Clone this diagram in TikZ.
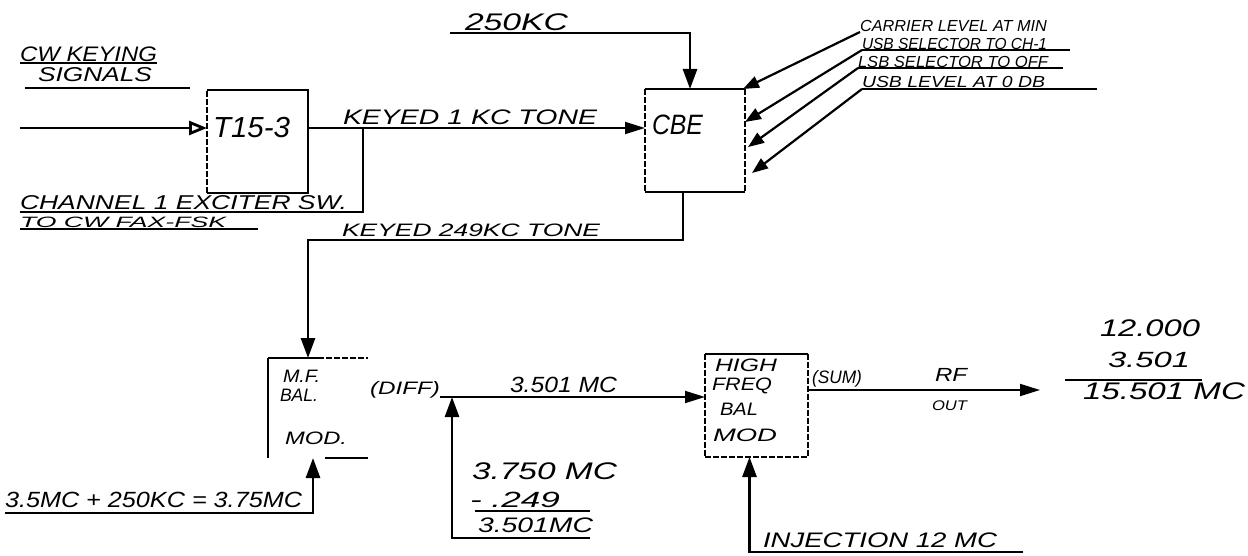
\documentclass[tikz,border=0pt]{standalone}
\usepackage{fontspec}
\setmainfont{Liberation Sans}
\usepackage{graphicx}
\usetikzlibrary{arrows.meta,fit,calc}
\newcommand\tx[3]{\fontsize{#1}{#1}\selectfont\itshape\resizebox{#2pt}{\height}{#3}}
\begin{document}
\begin{tikzpicture}[x=0.5pt,y=-0.5pt,
  lbl/.style={anchor=west,inner sep=0pt,outer sep=0pt},
  box/.style={inner sep=0pt,outer sep=0pt,draw=none},
  wire/.style={line width=1.4pt},
  uline/.style={line width=0.9pt},
  edge/.style={line width=1.4pt},
  dedge/.style={line width=0.8pt,dash pattern=on 3pt off 1pt},
  arr/.style={wire,-{Triangle[length=10pt,width=7pt]}},
  tarr/.style={line width=0.9pt,-{Triangle[length=10pt,width=6pt]}},
  sarr/.style={line width=1.1pt,-{Triangle[length=8pt,width=6pt]}},
  oarr/.style={wire,-{Triangle[open,length=9pt,width=7pt]}}]
\useasboundingbox (0,0) rectangle (1248,556);

% boxes
\node[box,fit={(207,90)(308,193)}] (t15) {};
\draw[edge] (t15.north west) -- (t15.north east) -- (t15.south east) -- (t15.south west);
\draw[dedge] (t15.south west) -- (t15.north west);

\node[box,fit={(645,89)(745,192)}] (cbe) {};
\draw[edge] (cbe.north west) -- (cbe.north east);
\draw[edge] (cbe.south west) -- (cbe.south east);
\draw[dedge] (cbe.north west) -- (cbe.south west);
\draw[dedge] (cbe.north east) -- (cbe.south east);

\node[box,fit={(268,358)(368,458)}] (mf) {};
\draw[dedge] (mf.north) -- (mf.north east);
\draw[edge] (mf.north west) -- (mf.north);
\draw[edge] (mf.north west) -- (mf.south west);
\draw[uline] ($(mf.south)+(7,0)$) -- (mf.south east);

\node[box,fit={(705,354)(808,457)}] (hf) {};
\draw[edge] (hf.north west) -- (hf.north east);
\draw[dedge] (hf.north west) -- (hf.south west);
\draw[dedge] (hf.north east) -- (hf.south east);
\draw[dedge] (hf.south west) -- (hf.south east);

% labels
\node[lbl] (cw1) at (20,54) {\tx{10.5}{68.5}{CW KEYING}};
\node[lbl] (cw2) at (38,75) {\tx{10}{57}{SIGNALS}};
\node[lbl] (t15l) at (213,128) {\tx{14.5}{38.5}{T15-3}};
\node[lbl] (k1) at (343,117) {\tx{10.5}{127}{KEYED 1 KC TONE}};
\node[lbl] (cbel) at (652,125) {\tx{14}{25.5}{CBE}};
\node[lbl] (kc) at (465,22) {\tx{12}{51.5}{250KC}};
\node[lbl] (r1) at (860,26) {\tx{8}{93.5}{CARRIER LEVEL AT MIN}};
\node[lbl] (r2) at (862,44) {\tx{8}{92.5}{USB SELECTOR TO CH-1}};
\node[lbl] (r3) at (858,62) {\tx{8}{95}{LSB SELECTOR TO OFF}};
\node[lbl] (r4) at (862,82) {\tx{8}{91.5}{USB LEVEL AT 0 DB}};
\node[lbl] (ch1) at (20,203) {\tx{10}{163.5}{CHANNEL 1 EXCITER SW.}};
\node[lbl] (ch2) at (20,222) {\tx{7.5}{103}{TO CW FAX-FSK}};
\node[lbl] (k2) at (342,230) {\tx{9}{129}{KEYED 249KC TONE}};
\node[lbl] (mf1) at (283,376) {\tx{9}{18.5}{M.F.}};
\node[lbl] (mf2) at (280,395) {\tx{9}{19}{BAL.}};
\node[lbl] (mf3) at (285,438) {\tx{9}{31}{MOD.}};
\node[lbl] (diff) at (370,390) {\tx{9}{35}{(DIFF)}};
\node[lbl] (f1) at (510,385) {\tx{11}{53.5}{3.501 MC}};
\node[lbl] (s1) at (472,471) {\tx{12}{72.5}{3.750 MC}};
\node[lbl] (s2) at (470,500) {\tx{11}{45}{- .249}};
\node[lbl] (s3) at (478,525) {\tx{10.5}{57.5}{3.501MC}};
\node[lbl] (b1) at (5,500) {\tx{11}{148.5}{3.5MC + 250KC = 3.75MC}};
\node[lbl] (h1) at (715,365) {\tx{9}{31}{HIGH}};
\node[lbl] (h2) at (712,386) {\tx{9}{30}{FREQ}};
\node[lbl] (h3) at (720,409) {\tx{9}{19}{BAL}};
\node[lbl] (h4) at (713,435) {\tx{9}{32}{MOD}};
\node[lbl] (sum) at (812,379) {\tx{9}{25}{(SUM)}};
\node[lbl] (rf1) at (935,375) {\tx{9.5}{16}{RF}};
\node[lbl] (rf2) at (932,406) {\tx{7}{17.5}{OUT}};
\node[lbl] (n1) at (1100,328) {\tx{12}{50}{12.000}};
\node[lbl] (n2) at (1108,360) {\tx{11}{41}{3.501}};
\node[lbl] (n3) at (1083,391) {\tx{12}{81}{15.501 MC}};
\node[lbl] (inj) at (763,540) {\tx{10.5}{117}{INJECTION 12 MC}};

% underlines
\draw[uline] (20,63) -- (157,63);
\draw[uline] (25,88) -- (190,88);
\draw[uline] (862,50) -- (1070,50);
\draw[uline] (858,68) -- (1063,68);
\draw[uline] (862,89) -- (1097,89);
\draw[uline] (20,229) -- (258,229);
\draw[uline] (475,511) -- (590,511);
\draw[uline] (1065,380) -- (1202,380);

% connectors
\coordinate (in0) at (20,128);
\draw[oarr] (in0) -- (in0 -| t15.west);
\draw[tarr] (in0 -| t15.east) -- (in0 -| cbe.west);
\coordinate (br) at (363,128);
\coordinate (chl) at (20,212);
\draw[wire] (br) |- (chl);

\coordinate (kcs) at (450,33);
\draw[arr] (kcs) -| ($(cbe.north)+(-5,0)$);

\coordinate (a1) at (860,32);
\coordinate (a2) at (862,50);
\coordinate (a3) at (858,68);
\coordinate (a4) at (862,89);
\draw[sarr] (a1) -- ($(cbe.north east)+(-2,0)$);
\draw[sarr] (a2) -- ($(cbe.north east)+(0,33)$);
\draw[sarr] (a3) -- ($(cbe.north east)+(3,58)$);
\draw[sarr] (a4) -- ($(cbe.north east)+(7,84)$);

\coordinate (k2r) at (683,240);
\coordinate (k2l) at (308,240);
\draw[arr] (cbe.south -| k2r) -- (k2r) -- (k2l) -- (mf.north -| k2l);

\coordinate (d0) at (440,397);
\draw[tarr] (diff.east |- d0) -- (d0 -| hf.west);
\coordinate (fb) at (590,538);
\coordinate (jn) at (452,397);
\draw[arr] (fb) -| (jn);

\coordinate (m0) at (5,513);
\draw[arr] (m0) -| ($(mf.south)+(-5,0)$);

\coordinate (i0) at (1023,552);
\draw[arr] (i0) -| ($(hf.south)+(-7,0)$);

\coordinate (rfe) at (1040,390);
\draw[tarr] (rfe -| hf.east) -- (rfe);
\end{tikzpicture}
\end{document}
